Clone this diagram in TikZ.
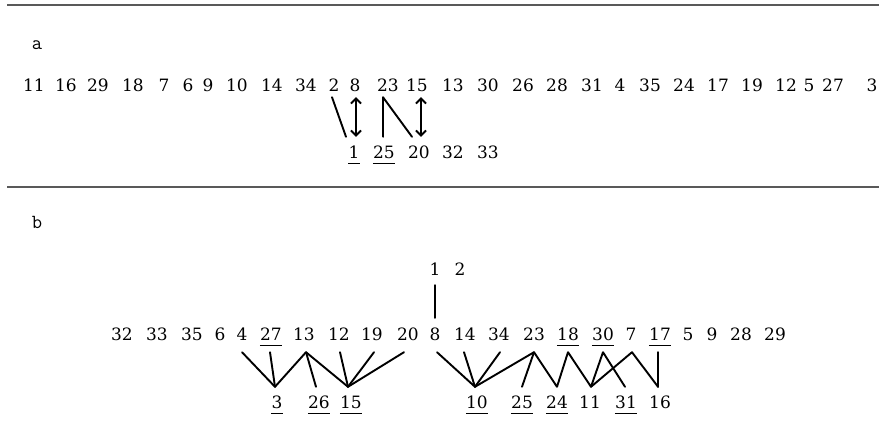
\documentclass[tikz,border=0pt]{standalone}
\usepackage{fontspec}
\setmainfont{DejaVu Serif}
\usetikzlibrary{arrows.meta}
\begin{document}
\begin{tikzpicture}[x=1pt,y=-1pt,
  num/.style={font=\fontsize{17}{17}\selectfont, inner sep=0pt, text height=12.5pt, text depth=0pt, anchor=base},
  panel/.style={font=\ttfamily\fontsize{20}{20}\selectfont, inner sep=0pt, anchor=base},
  ulline/.style={draw, line width=0.9pt},
  conn/.style={line width=1.9pt, line cap=round, line join=round},
  dbl/.style={conn, {Straight Barb[length=5pt,width=10pt]}-{Straight Barb[length=5pt,width=10pt]}},
  rulel/.style={draw=black!65, line width=1.1pt}]
\useasboundingbox (0,0) rectangle (879,436);
% rules
\draw[rulel] (7,5) -- (879,5);
\draw[rulel] (7,187) -- (879,187);
% panel labels
\node[panel] (la) at (37,50) {a};
\node[panel] (lb) at (37,228) {b};
% ---- panel a ----
\foreach \v/\x in {11/34,16/66,29/98,18/133,7/164,6/188,9/208,10/237,14/272,34/306,2/334,8/355,23/388,15/417,13/453,30/488,26/523,28/557,31/592,4/620,35/650,24/684,17/718,19/752,12/786,5/809,27/833,3/872}
  \node[num] (ta\v) at (\x,92) {\v};
\foreach \v/\x in {1/354,25/384,20/419,32/453,33/488}
  \node[num] (ba\v) at (\x,158) {\v};
\foreach \n in {ba1,ba25}
  \draw[ulline] ([yshift=-5.5pt]\n.south west) -- ([yshift=-5.5pt]\n.south east);
\draw[conn] ([xshift=-2pt,yshift=-5pt]ta2.south) -- ([xshift=-8pt,yshift=8.5pt]ba1.north);
\draw[dbl] ([xshift=1pt,yshift=-5pt]ta8.south) -- ([xshift=2pt,yshift=8.5pt]ba1.north);
\draw[conn] ([xshift=-1pt,yshift=8.5pt]ba25.north) -- ([xshift=-5pt,yshift=-5pt]ta23.south) -- ([xshift=-7pt,yshift=8.5pt]ba20.north);
\draw[dbl] ([xshift=4pt,yshift=-5pt]ta15.south) -- ([xshift=2pt,yshift=8.5pt]ba20.north);
% ---- panel b ----
\foreach \v/\x in {1/435,2/460}
  \node[num] (tb\v) at (\x,275) {\v};
\foreach \v/\x in {32/122,33/157,35/192,6/220,4/242,27/271,13/304,12/339,19/372,20/408,8/435,14/465,34/499,23/534,18/568,30/603,7/631,17/660,5/688,9/712,28/741,29/775}
  \node[num] (mb\v) at (\x,340) {\v};
\foreach \v/\x in {3/277,26/319,15/351,10/477,25/522,24/557,11/590,31/626,16/660}
  \node[num] (bb\v) at (\x,408) {\v};
\foreach \n in {mb27,mb18,mb30,mb17,bb3,bb26,bb15,bb10,bb25,bb24,bb31}
  \draw[ulline] ([yshift=-5.5pt]\n.south west) -- ([yshift=-5.5pt]\n.south east);
\draw[conn] ([yshift=-10pt]tb1.south) -- ([yshift=9.5pt]mb8.north);
% vertices
\coordinate (v3) at ([xshift=-2pt,yshift=8.5pt]bb3.north);
\coordinate (v15) at ([xshift=-3pt,yshift=8.5pt]bb15.north);
\coordinate (v10) at ([xshift=-2pt,yshift=8.5pt]bb10.north);
\coordinate (v24) at ([yshift=8.5pt]bb24.north);
\coordinate (v11) at ([xshift=1pt,yshift=8.5pt]bb11.north);
\coordinate (v16) at ([xshift=-2pt,yshift=8.5pt]bb16.north);
% left group
\draw[conn] ([yshift=-12pt]mb4.south) -- (v3) -- ([xshift=2pt,yshift=-12pt]mb13.south) -- (v15);
\draw[conn] ([xshift=-1pt,yshift=-12pt]mb27.south) -- (v3);
\draw[conn] ([xshift=2pt,yshift=-12pt]mb13.south) -- ([xshift=-3pt,yshift=8.5pt]bb26.north);
\draw[conn] ([xshift=1pt,yshift=-12pt]mb12.south) -- (v15);
\draw[conn] ([xshift=2pt,yshift=-12pt]mb19.south) -- (v15);
\draw[conn] ([xshift=-4pt,yshift=-12pt]mb20.south) -- (v15);
% right group
\draw[conn] ([xshift=2pt,yshift=-12pt]mb8.south) -- (v10);
\draw[conn] ([xshift=-1pt,yshift=-12pt]mb14.south) -- (v10);
\draw[conn] ([xshift=1pt,yshift=-12pt]mb34.south) -- (v10);
\draw[conn] (v10) -- ([yshift=-12pt]mb23.south) -- (v24) -- ([yshift=-12pt]mb18.south) -- (v11) -- ([yshift=-12pt]mb30.south) -- ([xshift=-1pt,yshift=8.5pt]bb31.north);
\draw[conn] ([yshift=-12pt]mb23.south) -- ([yshift=8.5pt]bb25.north);
\draw[conn] (v11) -- ([xshift=1pt,yshift=-12pt]mb7.south) -- (v16);
\draw[conn] ([xshift=-2pt,yshift=-12pt]mb17.south) -- (v16);
\end{tikzpicture}
\end{document}
